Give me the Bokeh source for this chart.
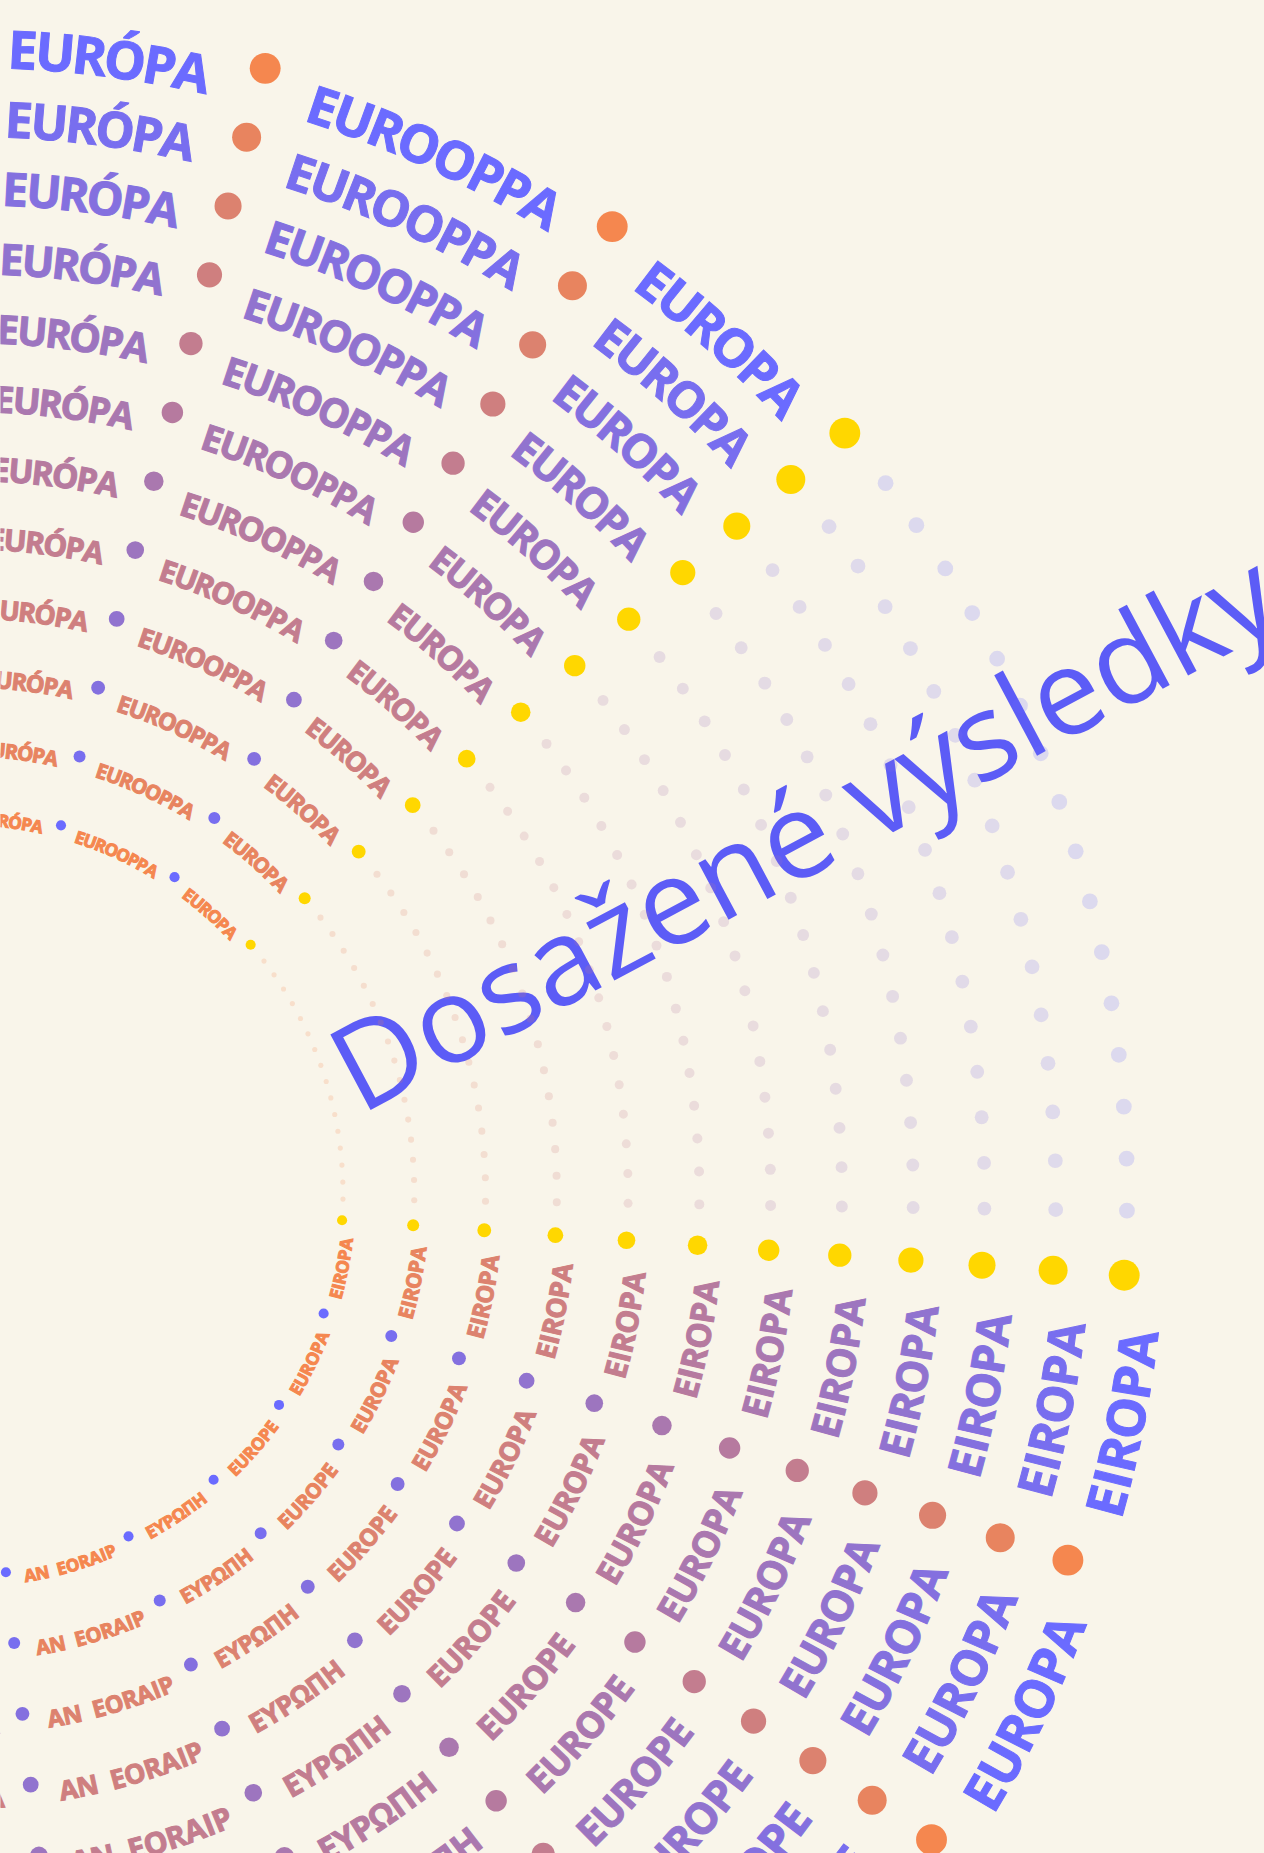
import math
from bokeh.plotting import figure
from bokeh.models import ColumnDataSource, Range1d, Label
from bokeh.core.properties import value
from bokeh.embed import file_html
from bokeh.resources import INLINE

# ---------------- data ----------------
RINGS = [1, 2, 3, 4, 5, 6, 7, 8, 9, 10, 11, 12]
# words read from the upper end of the gap, going counter-clockwise
TOP_LABELS = ["EUROPA", "EUROOPPA", "EURÓPA"]
# words read from the lower end of the gap, going clockwise
BOTTOM_LABELS = ["EIROPA", "EUROPA", "EUROPE", "ΕΥΡΩΠΗ", "AN  EORAIP", "EWROPA"]
GAP_START_DEG = -4.02      # lower yellow marker
GAP_END_DEG = 40.73        # upper yellow marker
GAP_DOT_COUNT = 16
TITLE = "Dosažené výsledky"

# ---------------- style / geometry ----------------
IMG_W, IMG_H = 1264, 1853
CX, CY = -38.8, IMG_H - 1193.0          # centre of the rings (data coords, y up)
R0, DR = 381.3, 71.28                   # radius of ring 1 and ring step
LAYOUT_K = 0.043                        # em width / radius used for spacing
FONT_K = 0.0452                         # rendered font size / radius
DOT_K = 0.0265                          # dot diameter / radius
FAINT_K = 0.0135                        # faint dot diameter / radius
SEP_DEG = 5.2                           # angular room taken by a separator dot
FAINT_STEP_DEG = 2.56
CAP = 0.357                             # half cap height in em

BG = "#f9f5ea"
ORANGE = (245, 135, 79)
BLUE = (107, 107, 255)
YELLOW = "#ffd700"
TITLE_COLOR = "#5c5cf6"

CHAR_W = {"E": 0.57, "U": 0.757, "R": 0.651, "O": 0.799, "Ó": 0.799, "P": 0.621,
          "A": 0.717, "I": 0.343, "N": 0.78, " ": 0.26, "W": 1.0,
          "Ε": 0.57, "Υ": 0.64, "Ρ": 0.621, "Ω": 0.78, "Π": 0.75, "Η": 0.78}


def lerp(c1, c2, t):
    return "#%02x%02x%02x" % tuple(int(round(a + (b - a) * t)) for a, b in zip(c1, c2))


def word_em(w):
    return sum(CHAR_W.get(c, 0.65) for c in w)


chars = dict(x=[], y=[], t=[], rot=[], fs=[], col=[])
dots = dict(x=[], y=[], r=[], col=[])
yel = dict(x=[], y=[], r=[])
faint = dict(x=[], y=[], r=[], col=[])


def place_word(word, theta_c, r, F, color, cw):
    """cw=True: text reads clockwise (upper half); else counter-clockwise."""
    ang_w = word_em(word) * LAYOUT_K
    cum = 0.0
    for c in word:
        cwid = CHAR_W.get(c, 0.65) * LAYOUT_K
        off = cum + cwid / 2
        cum += cwid
        if c == " ":
            continue
        if cw:
            th = theta_c + ang_w / 2 - off
            rb = r - CAP * F
            rot = th - math.pi / 2
        else:
            th = theta_c - ang_w / 2 + off
            rb = r + CAP * F
            rot = th + math.pi / 2
        chars["x"].append(CX + rb * math.cos(th))
        chars["y"].append(CY + rb * math.sin(th))
        chars["t"].append(c)
        chars["rot"].append(rot)
        chars["fs"].append("%.2fpx" % F)
        chars["col"].append(color)


sep = math.radians(SEP_DEG)
for k in RINGS:
    r = R0 + DR * (k - 1)
    F = FONT_K * r
    tt = (k - 1) / (len(RINGS) - 1)
    tcol = lerp(ORANGE, BLUE, tt)
    dcol = lerp(BLUE, ORANGE, tt)

    # yellow markers at both ends of the gap
    for a in (GAP_START_DEG, GAP_END_DEG):
        th = math.radians(a)
        yel["x"].append(CX + r * math.cos(th))
        yel["y"].append(CY + r * math.sin(th))
        yel["r"].append(DOT_K * r / 2)

    # faint dotted arc inside the gap
    mid = (GAP_START_DEG + GAP_END_DEG) / 2
    for i in range(GAP_DOT_COUNT):
        a = mid + (i - (GAP_DOT_COUNT - 1) / 2) * FAINT_STEP_DEG
        th = math.radians(a)
        faint["x"].append(CX + r * math.cos(th))
        faint["y"].append(CY + r * math.sin(th))
        faint["r"].append(FAINT_K * r / 2)
        faint["col"].append(tcol)

    # upper words (counter-clockwise from gap end)
    th = math.radians(GAP_END_DEG)
    for w in TOP_LABELS:
        aw = word_em(w) * LAYOUT_K
        place_word(w, th + sep / 2 + aw / 2, r, F, tcol, True)
        th += aw + sep
        dots["x"].append(CX + r * math.cos(th))
        dots["y"].append(CY + r * math.sin(th))
        dots["r"].append(DOT_K * r / 2)
        dots["col"].append(dcol)

    # lower words (clockwise from gap start)
    th = math.radians(GAP_START_DEG)
    for w in BOTTOM_LABELS:
        aw = word_em(w) * LAYOUT_K
        place_word(w, th - sep / 2 - aw / 2, r, F, tcol, False)
        th -= aw + sep
        dots["x"].append(CX + r * math.cos(th))
        dots["y"].append(CY + r * math.sin(th))
        dots["r"].append(DOT_K * r / 2)
        dots["col"].append(dcol)

p = figure(width=IMG_W, height=IMG_H, output_backend="svg", toolbar_location=None,
           x_range=Range1d(0, IMG_W), y_range=Range1d(0, IMG_H),
           x_axis_location=None, y_axis_location=None, min_border=0,
           background_fill_color=BG, border_fill_color=BG, outline_line_color=None)
p.grid.visible = False

title = Label(x=338, y=IMG_H - 1074, text=TITLE, angle=math.radians(28.0),
              text_font="Open Sans", text_font_size="120px", text_color=TITLE_COLOR,
              text_align="left", text_baseline="alphabetic", level="underlay")
p.add_layout(title)

p.circle(x="x", y="y", radius="r", fill_color="col", fill_alpha=0.2, line_color=None,
         source=ColumnDataSource(faint))
p.circle(x="x", y="y", radius="r", fill_color=YELLOW, line_color=None,
         source=ColumnDataSource(yel))
p.circle(x="x", y="y", radius="r", fill_color="col", line_color=None,
         source=ColumnDataSource(dots))
p.text(x="x", y="y", text="t", angle="rot", text_font_size="fs", text_color="col",
       text_outline_color="col",
       text_font=value("Open Sans"), text_font_style="bold", text_align="center",
       text_baseline="alphabetic", source=ColumnDataSource(chars))

html = file_html(p, INLINE, title=TITLE)
html = html.replace("<head>", "<head><style>html,body{background:%s;}</style>" % BG, 1)
open("out.html", "w").write(html)
